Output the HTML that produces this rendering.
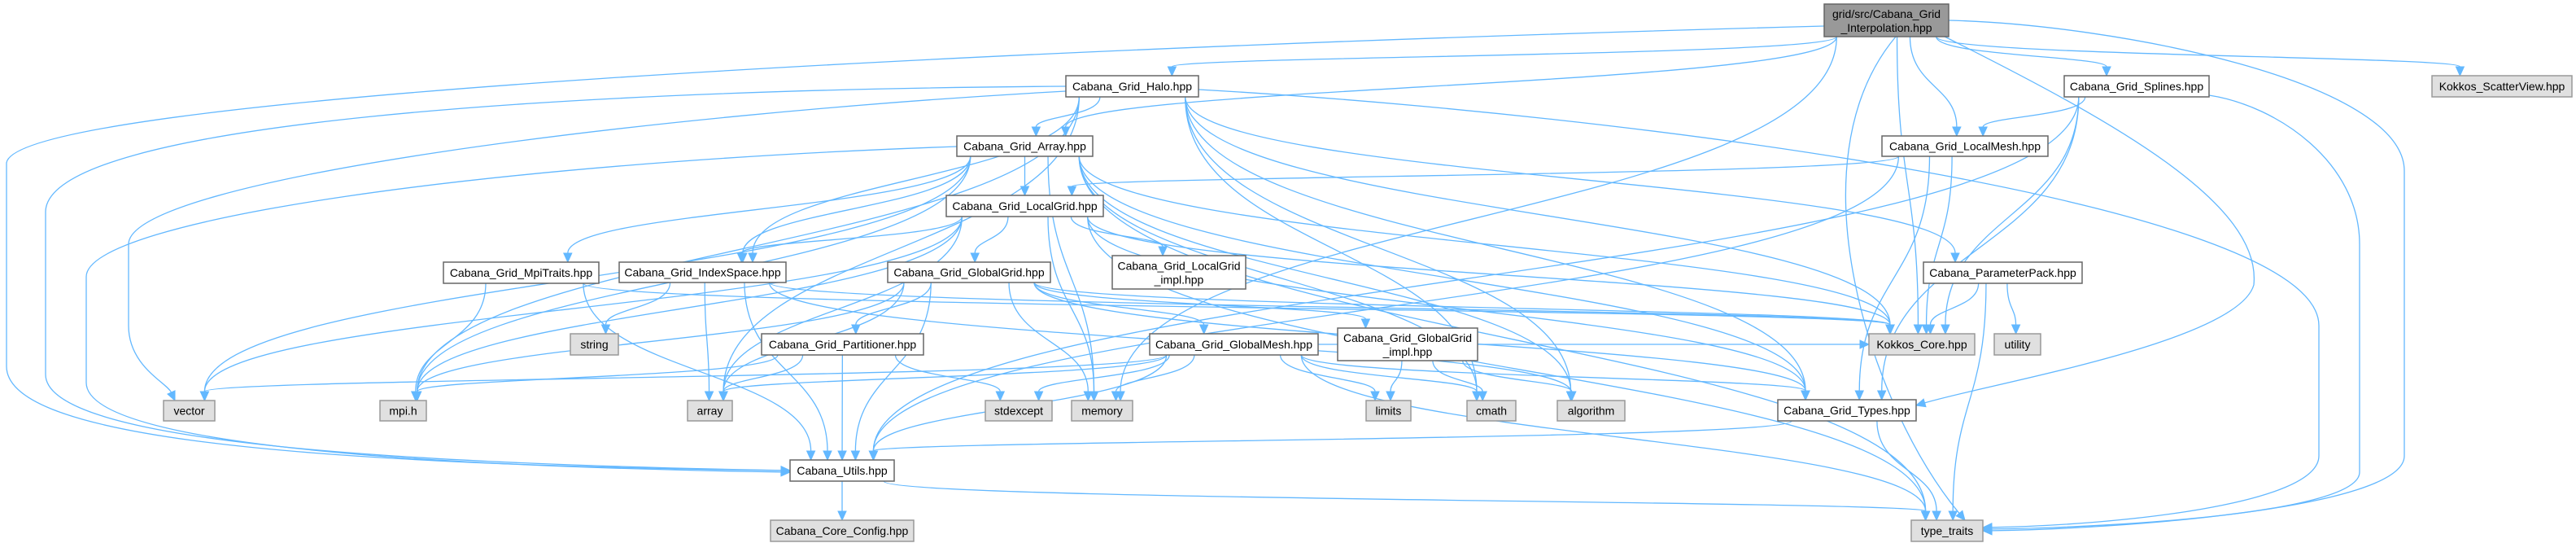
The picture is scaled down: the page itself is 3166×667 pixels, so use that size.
<!DOCTYPE html>
<html><head><meta charset="utf-8"><style>
html,body{margin:0;padding:0;background:#fff;}
svg{display:block;}
text{font-family:"Liberation Sans","DejaVu Sans",sans-serif;font-size:14px;fill:#000;}
</style></head><body>
<svg id="g" width="3166" height="667" viewBox="0 0 3166 667" xmlns="http://www.w3.org/2000/svg"></svg>
<script>
var N={
interp:[2242,5,2395,45,["grid/src/Cabana_Grid","_Interpolation.hpp"],2],
halo:[1310,93,1473,119,["Cabana_Grid_Halo.hpp"],0],
array_h:[1176,167,1343,192,["Cabana_Grid_Array.hpp"],0],
localgrid:[1163,240,1356,266,["Cabana_Grid_LocalGrid.hpp"],0],
localmesh:[2313,167,2517,192,["Cabana_Grid_LocalMesh.hpp"],0],
splines:[2537,93,2715,119,["Cabana_Grid_Splines.hpp"],0],
scatter:[2989,93,3161,119,["Kokkos_ScatterView.hpp"],1],
mpitraits:[545,322,736,348,["Cabana_Grid_MpiTraits.hpp"],0],
indexspace:[761,322,966,347,["Cabana_Grid_IndexSpace.hpp"],0],
globalgrid:[1091,322,1291,347,["Cabana_Grid_GlobalGrid.hpp"],0],
lgimpl:[1367,314,1531,355,["Cabana_Grid_LocalGrid","_impl.hpp"],0],
parampack:[2364,322,2559,348,["Cabana_ParameterPack.hpp"],0],
string:[701,410,760,436,["string"],1],
partitioner:[936,410,1135,436,["Cabana_Grid_Partitioner.hpp"],0],
globalmesh:[1413,410,1620,436,["Cabana_Grid_GlobalMesh.hpp"],0],
ggimpl:[1644,403,1816,443,["Cabana_Grid_GlobalGrid","_impl.hpp"],0],
kokkos:[2297,410,2427,436,["Kokkos_Core.hpp"],1],
utility:[2451,410,2508,436,["utility"],1],
vector:[201,492,264,517,["vector"],1],
mpi:[467,492,524,517,["mpi.h"],1],
arr:[845,492,900,517,["array"],1],
stdexcept:[1211,492,1293,517,["stdexcept"],1],
memory:[1317,492,1392,517,["memory"],1],
limits:[1679,492,1734,517,["limits"],1],
cmath:[1803,492,1863,517,["cmath"],1],
algorithm:[1914,492,1997,517,["algorithm"],1],
types:[2185,491,2355,517,["Cabana_Grid_Types.hpp"],0],
utils:[971,565,1099,591,["Cabana_Utils.hpp"],0],
config:[947,639,1123,665,["Cabana_Core_Config.hpp"],1],
tt:[2349,639,2437,665,["type_traits"],1]
};
var E={
interp:["halo","array_h","localmesh","splines","scatter","kokkos","memory"],
halo:["array_h","indexspace","mpi","arr","cmath","algorithm","kokkos","types","parampack"],
array_h:["localgrid","indexspace","mpitraits","kokkos","types","vector","mpi","memory","cmath","algorithm","tt"],
localgrid:["globalgrid","indexspace","lgimpl","kokkos","types","vector","arr","memory","mpi","tt"],
localmesh:["localgrid","kokkos","types","utils"],
splines:["localmesh","kokkos","types","utils"],
mpitraits:["mpi","utils","kokkos"],
indexspace:["string","arr","utils","kokkos","algorithm"],
globalgrid:["partitioner","globalmesh","ggimpl","arr","mpi","memory","utils","types","kokkos"],
parampack:["kokkos","utility","tt"],
partitioner:["mpi","arr","stdexcept","utils"],
globalmesh:["vector","arr","memory","stdexcept","limits","cmath","types","utils","tt","kokkos"],
ggimpl:["limits","cmath","algorithm"],
types:["utils","tt"],
utils:["config","tt"]
};
var s='',C='#63b8ff';
function cx(n){return (n[0]+n[2])/2;}
function cl(v,m){return Math.max(-m,Math.min(m,v));}
function arrow(px,py,ex,ey){var dx=ex-px,dy=ey-py,l=Math.sqrt(dx*dx+dy*dy)||1;dx/=l;dy/=l;
 var bx=ex-dx*11,by=ey-dy*11;
 return {bx:bx,by:by,poly:'<polygon points="'+(bx-dy*5)+','+(by+dx*5)+' '+(bx+dy*5)+','+(by-dx*5)+' '+ex+','+ey+'" fill="'+C+'" stroke="'+C+'"/>'};}
for(var a in E){var S=N[a];E[a].forEach(function(b,i){var T=N[b];
 var cs=cx(S),ct=cx(T);
 var sx=cs+cl((ct-cs)*0.3,(S[2]-S[0])*0.4), sy=S[3];
 var tx=ct+cl((sx-ct)*0.15,(T[2]-T[0])*0.3), ty=T[1];
 if(ty>sy+5){
   var m=(sy+ty)/2;
   var A=arrow(tx,m,tx,ty);
   s+='<path d="M'+sx+','+sy+' C'+sx+','+m+' '+tx+','+m+' '+A.bx+','+A.by+'" fill="none" stroke="'+C+'" stroke-width="1.3"/>'+A.poly;
 }else{
   var left=ct<cs; var ex=left?T[2]:T[0]; var ey2=(T[1]+T[3])/2;
   var sx2=left?S[0]:S[2]; var sy2=(S[1]+S[3])/2;
   var mx=(sx2+ex)/2;
   var A2=arrow(mx,ey2,ex,ey2);
   s+='<path d="M'+sx2+','+sy2+' C'+mx+','+sy2+' '+mx+','+ey2+' '+A2.bx+','+A2.by+'" fill="none" stroke="'+C+'" stroke-width="1.3"/>'+A2.poly;
 }
});}
// custom long routes: [prefix ending with "C c1 ", c2, end]
var R=[
 ["M2242,32 C1200,60 20,120 8,200 L8,450 C8,530 ",[300,570],[971,578]],
 ["M1310,106 C700,110 58,150 56,260 L56,460 C56,535 ",[400,568],[971,578]],
 ["M1176,180 C600,200 106,270 106,340 L106,470 C106,540 ",[450,572],[971,580]],
 ["M1310,112 C800,140 158,220 158,300 L158,400 C158,450 ",[205,470],[215,492]],
 ["M2395,25 C2600,30 2955,100 2955,210 L2955,560 C2955,625 ",[2600,650],[2437,652]],
 ["M2715,117 C2800,130 2900,200 2900,300 L2900,580 C2900,630 ",[2600,648],[2437,650]],
 ["M1473,110 C2000,140 2850,250 2850,400 L2850,560 C2850,620 ",[2600,645],[2437,648]],
 ["M2390,45 C2600,150 2780,250 2770,350 C2750,420 ",[2450,470],[2355,498]],
 ["M2330,45 C2200,200 ",[2300,500],[2415,639]]
];
R.forEach(function(r){var A=arrow(r[1][0],r[1][1],r[2][0],r[2][1]);
 s+='<path d="'+r[0]+r[1][0]+','+r[1][1]+' '+A.bx+','+A.by+'" fill="none" stroke="'+C+'" stroke-width="1.3"/>'+A.poly;});
for(var k in N){var n=N[k];var fill=n[5]==2?'#999999':(n[5]==1?'#e0e0e0':'#ffffff');var st=n[5]==1?'#999999':'#666666';
 s+='<rect x="'+n[0]+'" y="'+n[1]+'" width="'+(n[2]-n[0])+'" height="'+(n[3]-n[1])+'" fill="'+fill+'" stroke="'+st+'" stroke-width="1.5"/>';
 var L=n[4],c=cx(n),my=(n[1]+n[3])/2;
 if(L.length==1){s+='<text x="'+c+'" y="'+(my+5)+'" text-anchor="middle">'+L[0]+'</text>';}
 else{s+='<text x="'+c+'" y="'+(my-3)+'" text-anchor="middle">'+L[0]+'</text><text x="'+c+'" y="'+(my+14)+'" text-anchor="middle">'+L[1]+'</text>';}
}
document.getElementById('g').innerHTML=s;
</script>
</body></html>
